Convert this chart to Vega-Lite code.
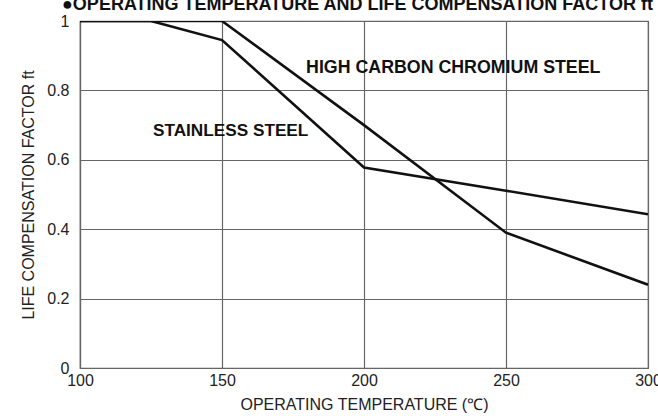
{
  "$schema": "https://vega.github.io/schema/vega-lite/v6.json",
  "autosize": "none",
  "width": 568,
  "height": 347,
  "padding": {"left": 80, "top": 21, "right": 10, "bottom": 48},
  "background": "white",
  "config": {
    "font": "Liberation Sans",
    "view": {"stroke": "#666", "strokeWidth": 1.2},
    "axis": {
      "grid": true,
      "gridColor": "#666",
      "gridOpacity": 1,
      "gridWidth": 1.2,
      "domainColor": "#666",
      "domainWidth": 1.2,
      "ticks": false,
      "labelFont": "Liberation Sans",
      "labelFontSize": 16,
      "labelColor": "#222",
      "titleFont": "Liberation Sans",
      "titleFontSize": 16,
      "titleFontWeight": "normal",
      "titleColor": "#222"
    }
  },
  "title": {
    "text": "●OPERATING TEMPERATURE AND LIFE COMPENSATION FACTOR ft",
    "font": "Liberation Sans",
    "fontSize": 18,
    "fontWeight": "bold",
    "color": "#111",
    "anchor": "start",
    "frame": "group",
    "dx": -18,
    "dy": 15,
    "baseline": "alphabetic",
    "offset": 0
  },
  "layer": [
    {
      "data": {
        "values": [
          {"series": "HIGH CARBON CHROMIUM STEEL", "t": 100, "f": 1},
          {"series": "HIGH CARBON CHROMIUM STEEL", "t": 150, "f": 1},
          {"series": "HIGH CARBON CHROMIUM STEEL", "t": 200, "f": 0.7},
          {"series": "HIGH CARBON CHROMIUM STEEL", "t": 250, "f": 0.39},
          {"series": "HIGH CARBON CHROMIUM STEEL", "t": 300, "f": 0.24},
          {"series": "STAINLESS STEEL", "t": 100, "f": 1},
          {"series": "STAINLESS STEEL", "t": 125, "f": 1},
          {"series": "STAINLESS STEEL", "t": 150, "f": 0.945},
          {"series": "STAINLESS STEEL", "t": 200, "f": 0.578},
          {"series": "STAINLESS STEEL", "t": 250, "f": 0.511},
          {"series": "STAINLESS STEEL", "t": 300, "f": 0.443}
        ]
      },
      "mark": {"type": "line", "color": "#111", "strokeWidth": 2.6, "clip": true},
      "encoding": {
        "x": {
          "field": "t",
          "type": "quantitative",
          "scale": {"domain": [100, 300], "nice": false, "zero": false},
          "axis": {"values": [100, 150, 200, 250, 300], "title": "OPERATING TEMPERATURE (℃)", "labelPadding": 4, "titlePadding": 8, "labelFlush": false}
        },
        "y": {
          "field": "f",
          "type": "quantitative",
          "scale": {"domain": [0, 1], "nice": false},
          "axis": {"values": [0, 0.2, 0.4, 0.6, 0.8, 1], "format": ".1~f", "title": "LIFE COMPENSATION FACTOR ft", "labelPadding": 11, "titlePadding": 10}
        },
        "detail": {"field": "series"}
      }
    },
    {
      "data": {
        "values": [
          {"label": "HIGH CARBON CHROMIUM STEEL", "t": 179.6, "f": 0.865, "size": 17.8},
          {"label": "STAINLESS STEEL", "t": 125.7, "f": 0.683, "size": 17.2}
        ]
      },
      "mark": {"type": "text", "align": "left", "baseline": "middle", "fontWeight": "bold", "color": "#111", "font": "Liberation Sans"},
      "encoding": {
        "x": {"field": "t", "type": "quantitative"},
        "y": {"field": "f", "type": "quantitative"},
        "text": {"field": "label"},
        "size": {"field": "size", "type": "quantitative", "scale": null}
      }
    }
  ]
}
